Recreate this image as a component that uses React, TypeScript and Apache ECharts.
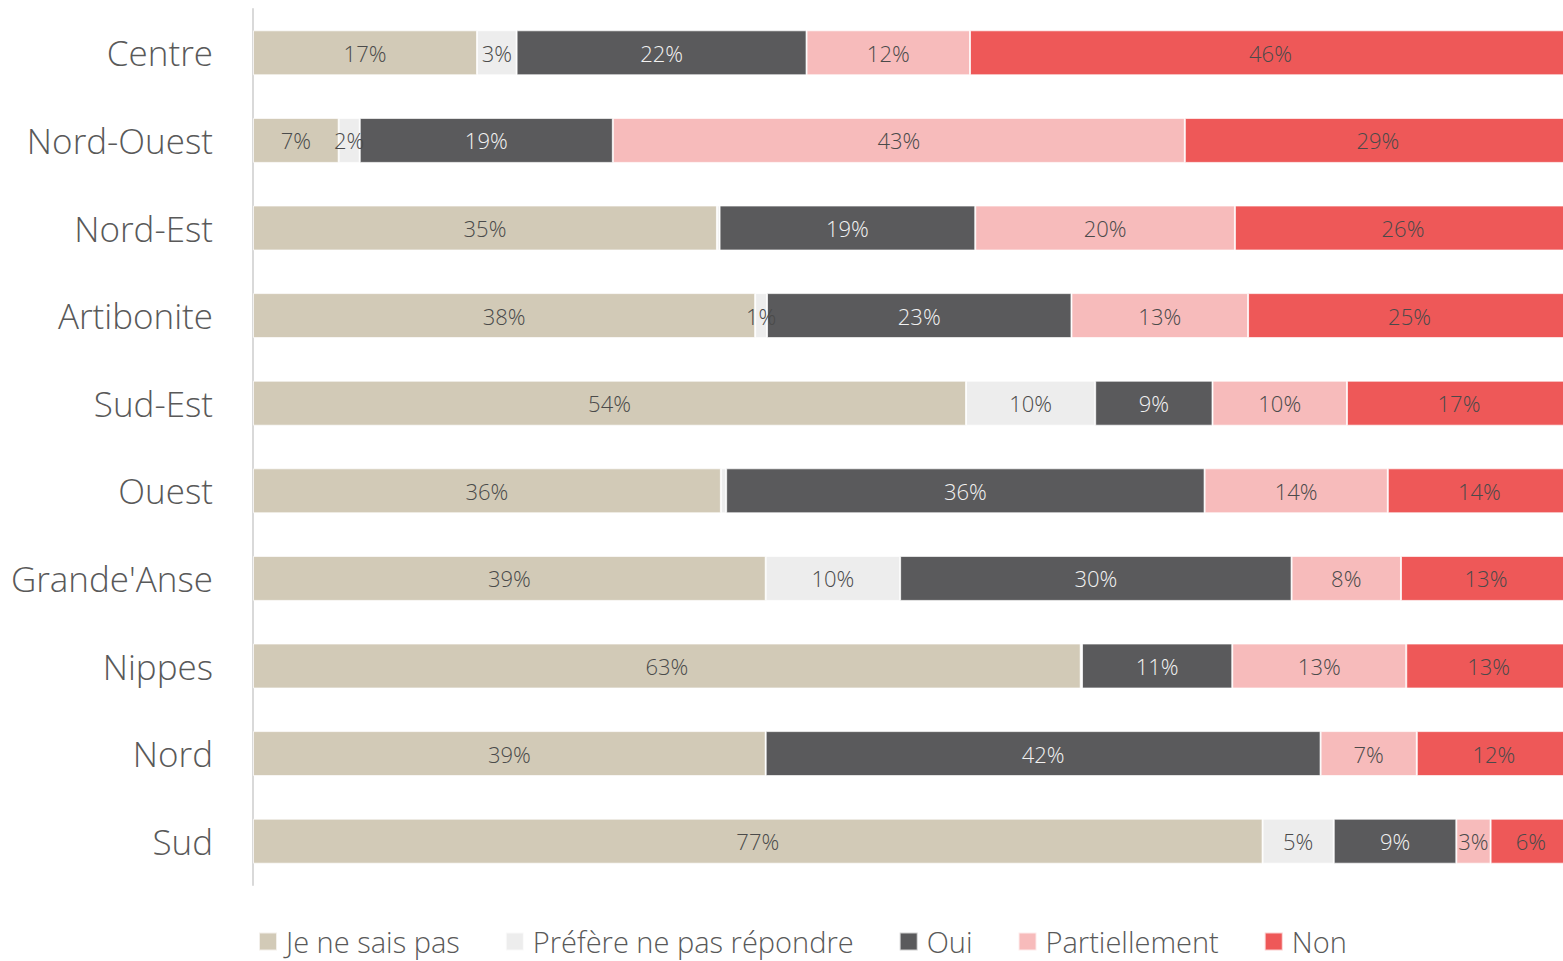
import React, { useEffect, useRef } from "react";
import * as echarts from "echarts";

const categories = ["Centre", "Nord-Ouest", "Nord-Est", "Artibonite", "Sud-Est", "Ouest", "Grande'Anse", "Nippes", "Nord", "Sud"];
const seriesNames = ["Je ne sais pas", "Préfère ne pas répondre", "Oui", "Partiellement", "Non"];
const jeNeSaisPas = [17.0, 6.5, 35.2, 38.1, 54.1, 35.5, 38.9, 62.8, 38.9, 76.6];
const prefere = [3.0, 1.6, 0.2, 0.9, 9.8, 0.4, 10.2, 0.1, 0, 5.4];
const oui = [22.0, 19.2, 19.4, 23.1, 8.9, 36.3, 29.7, 11.4, 42.1, 9.3];
const partiellement = [12.4, 43.4, 19.7, 13.4, 10.2, 13.9, 8.3, 13.2, 7.3, 2.6];
const non = [45.6, 29.3, 25.5, 24.5, 17.0, 13.9, 12.9, 12.5, 11.7, 6.1];

const colors = ["#D2CAB7", "#EDEDED", "#5A5A5C", "#F7BBBB", "#EE5858"];
const labelColors = ["#4A4A4A", "#4A4A4A", "#F2F2F2", "#4A4A4A", "#4A4A4A"];
const FONT = "'Open Sans', 'Noto Sans', sans-serif";

export default function App() {
  const ref = useRef<HTMLDivElement>(null);
  useEffect(() => {
    if (!ref.current) return;
    const chart = echarts.init(ref.current, null, { renderer: "svg" });
    const values = [jeNeSaisPas, prefere, oui, partiellement, non];
    chart.setOption({
      animation: false,
      textStyle: { fontFamily: FONT, fontWeight: 300 },
      color: colors,
      grid: { left: 253, right: 0, top: 9, height: 876, containLabel: false },
      legend: {
        data: seriesNames,
        left: 258,
        top: 927,
        padding: 0,
        itemWidth: 18,
        itemHeight: 18,
        itemGap: 45,
        icon: "rect",
        textStyle: { fontFamily: FONT, fontWeight: 300, fontSize: 29, color: "#595959", padding: [0, 0, 0, 4] },
      },
      xAxis: {
        type: "value",
        min: 0,
        max: 100,
        show: false,
        splitLine: { show: false },
      },
      yAxis: {
        type: "category",
        data: categories,
        inverse: true,
        axisTick: { show: false },
        axisLine: { show: true, lineStyle: { color: "#D9D9D9", width: 2 } },
        axisLabel: { fontFamily: FONT, fontWeight: 300, fontSize: 35, color: "#595959", margin: 40 },
      },
      series: values.map((arr, i) => ({
        name: seriesNames[i],
        type: "bar",
        stack: "total",
        barWidth: 45,
        data: arr,
        itemStyle: { color: colors[i], borderColor: "rgba(255,255,255,0.7)", borderWidth: 1 },
        label: {
          show: true,
          position: "inside",
          fontFamily: FONT,
          fontWeight: 300,
          fontSize: 22,
          color: labelColors[i],
          formatter: (p: any) => (p.value >= 0.5 ? Math.round(p.value) + "%" : ""),
        },
      })),
    });
    return () => chart.dispose();
  }, []);
  return (
    <div style={{ position: "fixed", left: 0, top: 0, width: "100vw", height: "100vh", overflow: "hidden", background: "#fff" }}>
      <div ref={ref} style={{ width: 1571, height: 961 }} />
    </div>
  );
}
